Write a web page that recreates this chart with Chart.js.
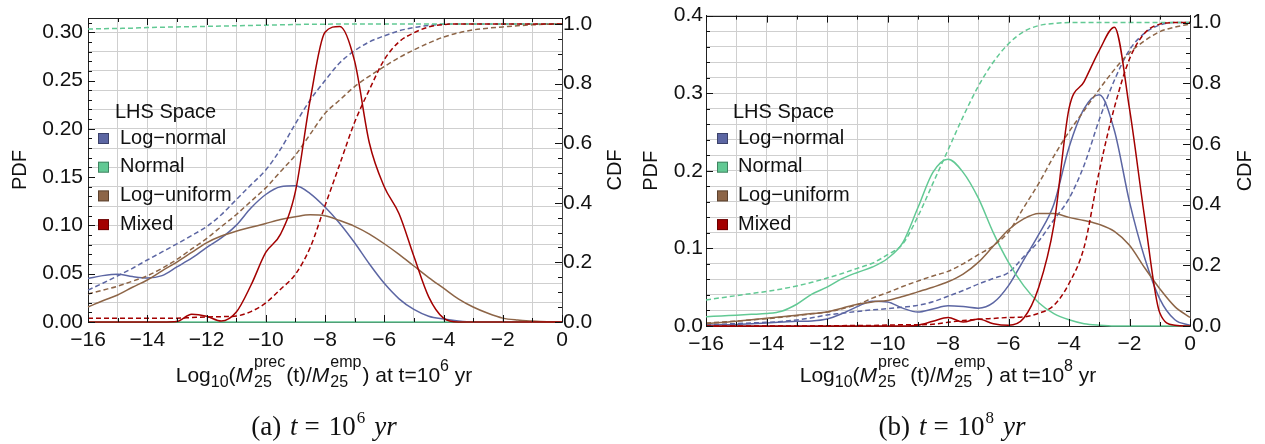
<!DOCTYPE html>
<html>
<head>
<meta charset="utf-8">
<script src="https://cdn.jsdelivr.net/npm/chart.js@4.4.0/dist/chart.umd.min.js"></script>
<style>
  html, body { margin:0; padding:0; background:#fff; }
  #wrap { position:relative; width:1265px; height:444px; }
  canvas { position:absolute; top:0; }
  #chartA { left:0; }
  #chartB { left:632px; }
</style>
</head>
<body>
<div id="wrap">
  <canvas id="chartA" width="632" height="444"></canvas>
  <canvas id="chartB" width="633" height="444"></canvas>
</div>
<script>
// log10 of precipitated mass ratio
const xs = [-16,-15.5,-15,-14.5,-14,-13.5,-13,-12.5,-12,-11.5,-11,-10.5,-10,-9.5,-9,-8.5,-8,-7.5,-7,-6.5,-6,-5.5,-5,-4.5,-4,-3.5,-3,-2.5,-2,-1.5,-1,-0.5,0];

const categories = ["Log\u2212normal", "Normal", "Log\u2212uniform", "Mixed"];
const colors = ["#5c66a3", "#62c994", "#8d6547", "#a30000"];

// --- t = 1e6 yr ---
const pdfA_logNormal = [0.045,0.048,0.0495,0.047,0.0455,0.048,0.057,0.066,0.077,0.087,0.100,
  0.118,0.132,0.140,0.141,0.133,0.119,0.102,0.082,0.060,0.040,0.024,
  0.013,0.006,0.003,0.001,0,0,0,0,0,0,0];
const pdfA_normal = [0,0,0,0,0,0,0,0,0,0,0,
  0,0,0,0,0,0,0,0,0,0,0,
  0,0,0,0,0,0,0,0,0,0,0];
const pdfA_logUniform = [0.0155,0.022,0.028,0.036,0.0435,0.053,0.062,0.072,0.082,0.089,0.094,
  0.098,0.102,0.106,0.109,0.111,0.110,0.105,0.099,0.091,0.081,0.070,
  0.058,0.046,0.035,0.024,0.0155,0.009,0.004,0.002,0.001,0.0003,0];
const pdfA_mixed = [0,0,0,0,0,0,0.0005,0.008,0.006,0.001,0.010,
  0.038,0.072,0.091,0.135,0.230,0.300,0.306,0.270,0.185,0.140,0.112,
  0.068,0.026,0.004,0,0,0,0,0,0,0,0];

const cdfA_logNormal = [0.107,0.13,0.155,0.18,0.208,0.235,0.262,0.29,0.32,0.36,0.41,
  0.46,0.51,0.58,0.665,0.745,0.81,0.87,0.91,0.94,0.96,0.977,
  0.988,0.995,0.999,1,1,1,1,1,1,1,1];
const cdfA_normal = [0.983,0.984,0.985,0.986,0.988,0.989,0.990,0.991,0.992,0.993,0.994,
  0.995,0.996,0.997,0.998,0.999,0.999,1,1,1,1,1,
  1,1,1,1,1,1,1,1,1,1,1];
const cdfA_logUniform = [0.094,0.107,0.12,0.137,0.155,0.18,0.21,0.245,0.28,0.32,0.36,
  0.405,0.45,0.505,0.56,0.63,0.70,0.745,0.79,0.825,0.857,0.887,
  0.913,0.936,0.956,0.97,0.98,0.986,0.99,0.994,0.997,0.999,1];
const cdfA_mixed = [0.013,0.013,0.013,0.013,0.013,0.013,0.013,0.015,0.017,0.018,0.02,
  0.035,0.064,0.11,0.16,0.25,0.39,0.53,0.67,0.78,0.88,0.94,
  0.97,0.99,0.998,1,1,1,1,1,1,1,1];

// --- t = 1e8 yr ---
const pdfB_logNormal = [0.001,0.0015,0.002,0.003,0.004,0.005,0.006,0.0065,0.009,0.016,0.025,
  0.032,0.031,0.023,0.018,0.022,0.026,0.025,0.023,0.030,0.052,0.085,
  0.118,0.157,0.23,0.28,0.298,0.252,0.16,0.088,0.035,0.008,0.001];
const pdfB_normal = [0.012,0.013,0.014,0.015,0.016,0.019,0.028,0.041,0.050,0.061,0.069,
  0.076,0.087,0.107,0.152,0.198,0.215,0.198,0.165,0.12,0.082,0.052,
  0.030,0.016,0.008,0.003,0.001,0,0,0,0,0,0];
const pdfB_logUniform = [0.003,0.0045,0.006,0.008,0.010,0.012,0.014,0.016,0.018,0.023,0.028,
  0.031,0.033,0.038,0.044,0.050,0.057,0.067,0.082,0.103,0.124,0.138,
  0.145,0.145,0.140,0.136,0.131,0.122,0.104,0.075,0.048,0.025,0.011];
const pdfB_mixed = [0,0,0,0,0,0,0,0,0,0,0,
  0,0,0,0.001,0.006,0.011,0.005,0.009,0.003,0.001,0.010,
  0.05,0.13,0.28,0.315,0.355,0.385,0.28,0.14,0.017,0.001,0];

const cdfB_logNormal = [0.005,0.006,0.008,0.010,0.012,0.015,0.02,0.027,0.036,0.042,0.048,
  0.053,0.057,0.062,0.068,0.08,0.098,0.117,0.138,0.157,0.176,0.228,
  0.28,0.35,0.42,0.53,0.68,0.81,0.91,0.965,0.992,1,1];
const cdfB_normal = [0.086,0.093,0.10,0.107,0.114,0.122,0.132,0.144,0.158,0.173,0.19,
  0.207,0.235,0.27,0.36,0.47,0.58,0.69,0.79,0.87,0.93,0.97,
  0.99,0.997,1,1,1,1,1,1,1,1,1];
const cdfB_logUniform = [0.01,0.013,0.016,0.02,0.024,0.029,0.034,0.04,0.046,0.057,0.07,
  0.092,0.11,0.13,0.148,0.165,0.18,0.205,0.235,0.265,0.31,0.39,
  0.47,0.56,0.64,0.71,0.78,0.845,0.9,0.94,0.97,0.985,0.995];
const cdfB_mixed = [0,0,0,0,0,0,0,0,0.001,0.001,0.002,
  0.002,0.003,0.004,0.004,0.006,0.012,0.018,0.022,0.025,0.028,0.03,
  0.042,0.068,0.14,0.26,0.51,0.72,0.88,0.965,0.995,1,1];

const SANS = '"Liberation Sans", Arial, sans-serif';
const SERIF = '"Liberation Serif", "Times New Roman", serif';
const GRID = "#cfcfcf";
const TEXT = "#111";

const panels = [
  {
    id: "chartA", letter: "a", exp: "6",
    pdf: [pdfA_logNormal, pdfA_normal, pdfA_logUniform, pdfA_mixed],
    cdf: [cdfA_logNormal, cdfA_normal, cdfA_logUniform, cdfA_mixed],
    pdfMax: 0.3147, cdfMax: 1.02,
    pdfStep: 0.01, gridEvery: 2, labelEvery: 5, digits: 2,
    pad: { top: 18 }, leftW: 88, rightW: 70, bottomH: 122,
    yPad: 5, y1Pad: 1,
    pdfTitleX: 20, cdfTitleX: 615,
    legend: { titleX: 115, boxX: 98, textX: 120 },
    titleCx: 324, captionCx: 324
  },
  {
    id: "chartB", letter: "b", exp: "8",
    pdf: [pdfB_logNormal, pdfB_normal, pdfB_logUniform, pdfB_mixed],
    cdf: [cdfB_logNormal, cdfB_normal, cdfB_logUniform, cdfB_mixed],
    pdfMax: 0.4, cdfMax: 1.023,
    pdfStep: 0.02, gridEvery: 1, labelEvery: 5, digits: 1,
    pad: { top: 15 }, leftW: 74, rightW: 75, bottomH: 118,
    yPad: 3, y1Pad: 2,
    pdfTitleX: 19, cdfTitleX: 613,
    legend: { titleX: 101, boxX: 85, textX: 106 },
    titleCx: 316, captionCx: 320
  }
];

// text with sub/superscripts, drawn piece by piece
function segWidth(ctx, s, family){
  if (s.sup !== undefined){
    ctx.font = s.size + "px " + family;
    return Math.max(ctx.measureText(s.sup).width, ctx.measureText(s.sub).width);
  }
  ctx.font = (s.italic ? "italic " : "") + s.size + "px " + family;
  return ctx.measureText(s.t).width;
}
function drawRich(ctx, segs, family, cx, base){
  const ws = segs.map(s => segWidth(ctx, s, family) + (s.gap || 0));
  let x = cx - ws.reduce((a, b) => a + b, 0) / 2;
  ctx.textAlign = "left";
  ctx.textBaseline = "alphabetic";
  segs.forEach((s, i) => {
    if (s.sup !== undefined){
      ctx.font = s.size + "px " + family;
      ctx.fillText(s.sup, x + 1, base + s.supDy);
      ctx.fillText(s.sub, x + 1, base + s.subDy);
    } else {
      ctx.font = (s.italic ? "italic " : "") + s.size + "px " + family;
      ctx.fillText(s.t, x, base + (s.dy || 0));
    }
    x += ws[i];
  });
}

function axisTitle(exp){
  return [
    { t: "Log", size: 21 }, { t: "10", size: 16, dy: 5 }, { t: "(", size: 21 },
    { t: "M", size: 21, italic: true },
    { sup: "prec", sub: "25", size: 16, supDy: -15, subDy: 5, gap: 2 },
    { t: "(t)/", size: 21 },
    { t: "M", size: 21, italic: true },
    { sup: "emp", sub: "25", size: 16, supDy: -15, subDy: 5, gap: 2 },
    { t: ") at t=10", size: 21 }, { t: exp, size: 16, dy: -11 }, { t: " yr", size: 21 }
  ];
}
function captionText(letter, exp){
  return [
    { t: "(" + letter + ")", size: 27, gap: 9 }, { t: "t", size: 27, italic: true, gap: 7 },
    { t: "=", size: 27, gap: 9 }, { t: "10", size: 27, gap: 1 }, { t: exp, size: 17, dy: -12, gap: 9 },
    { t: "yr", size: 27, italic: true }
  ];
}

// frame, inward ticks, axis titles, legend and caption
function decorations(p){
  return {
    id: "decor" + p.letter,
    afterDraw(chart){
      const ctx = chart.ctx;
      const a = chart.chartArea;
      const sx = chart.scales.x, sy = chart.scales.y, sy1 = chart.scales.y1;
      ctx.save();

      // top frame line
      ctx.strokeStyle = "#222";
      ctx.lineWidth = 1;
      ctx.beginPath();
      ctx.moveTo(a.left, Math.round(a.top) + 0.5);
      ctx.lineTo(a.right, Math.round(a.top) + 0.5);
      ctx.stroke();

      // inward tick marks
      ctx.strokeStyle = "#111";
      ctx.beginPath();
      sx.ticks.forEach(t => {
        const px = Math.round(sx.getPixelForValue(t.value)) + 0.5;
        const len = t.value % 2 === 0 ? 7 : 4;
        ctx.moveTo(px, a.bottom); ctx.lineTo(px, a.bottom - len);
        ctx.moveTo(px, a.top); ctx.lineTo(px, a.top + len);
      });
      sy.ticks.forEach(t => {
        const py = Math.round(sy.getPixelForValue(t.value)) + 0.5;
        const k = Math.round(t.value / p.pdfStep);
        const len = k % p.labelEvery === 0 ? 7 : 4;
        ctx.moveTo(a.left, py); ctx.lineTo(a.left + len, py);
      });
      sy1.ticks.forEach(t => {
        const py = Math.round(sy1.getPixelForValue(t.value)) + 0.5;
        const len = Math.round(t.value / 0.05) % 4 === 0 ? 7 : 4;
        ctx.moveTo(a.right, py); ctx.lineTo(a.right - len, py);
      });
      ctx.stroke();

      // axis titles (both read bottom to top)
      ctx.fillStyle = TEXT;
      ctx.font = "20px " + SANS;
      ctx.textAlign = "center";
      ctx.textBaseline = "middle";
      const cy = (a.top + a.bottom) / 2;
      [["PDF", p.pdfTitleX], ["CDF", p.cdfTitleX]].forEach(([txt, x]) => {
        ctx.save();
        ctx.translate(x, cy);
        ctx.rotate(-Math.PI / 2);
        ctx.fillText(txt, 0, 0);
        ctx.restore();
      });

      // legend
      const L = p.legend;
      ctx.textAlign = "left";
      ctx.fillText("LHS Space", L.titleX, 112);
      categories.forEach((name, i) => {
        const y = 138 + i * 28.7;
        ctx.fillStyle = colors[i];
        ctx.fillRect(L.boxX, y - 5, 11, 11);
        ctx.strokeStyle = "rgba(0,0,0,0.35)";
        ctx.strokeRect(L.boxX + 0.5, y - 4.5, 10, 10);
        ctx.fillStyle = TEXT;
        ctx.fillText(name, L.textX, y);
      });

      // x title and caption
      drawRich(ctx, axisTitle(p.exp), SANS, p.titleCx, 382);
      drawRich(ctx, captionText(p.letter, p.exp), SERIF, p.captionCx, 435);
      ctx.restore();
    }
  };
}

function buildChart(p){
  const datasets = [];
  // mixed first in the list so it paints on top
  [0, 1, 2, 3].forEach(i => {
    datasets.unshift({
      label: categories[i] + " CDF",
      data: xs.map((x, j) => ({ x: x, y: p.cdf[i][j] })),
      yAxisID: "y1",
      borderColor: colors[i], borderWidth: 1.5, borderDash: [5, 3],
      pointRadius: 0, cubicInterpolationMode: "monotone", clip: 3
    });
    datasets.unshift({
      label: categories[i] + " PDF",
      data: xs.map((x, j) => ({ x: x, y: p.pdf[i][j] })),
      yAxisID: "y",
      borderColor: colors[i], borderWidth: 1.5,
      pointRadius: 0, cubicInterpolationMode: "monotone", clip: 3
    });
  });

  const tickFont = { family: SANS, size: 21 };

  return new Chart(document.getElementById(p.id), {
    type: "line",
    data: { datasets: datasets },
    options: {
      responsive: false, animation: false, devicePixelRatio: 1,
      layout: { padding: { top: p.pad.top, left: 0, right: 0, bottom: 0 } },
      plugins: { legend: { display: false }, tooltip: { enabled: false } },
      scales: {
        x: {
          type: "linear", min: -16, max: 0,
          afterBuildTicks: s => { s.ticks = xs.filter(v => Number.isInteger(v)).map(v => ({ value: v })); },
          afterFit: s => { s.height = p.bottomH; },
          grid: { color: GRID, drawTicks: false },
          border: { color: "#222", width: 1 },
          ticks: {
            autoSkip: false, maxRotation: 0, padding: 6, color: TEXT, font: tickFont,
            callback: v => v % 2 !== 0 ? "" : (v < 0 ? "\u2212" + (-v) : "0")
          }
        },
        y: {
          type: "linear", position: "left", min: 0, max: p.pdfMax,
          afterBuildTicks: s => {
            const t = [];
            for (let k = 0; k * p.pdfStep <= p.pdfMax + 1e-9; k++) t.push({ value: +(k * p.pdfStep).toFixed(3) });
            s.ticks = t;
          },
          afterFit: s => { s.width = p.leftW; },
          grid: {
            drawTicks: false,
            color: c => Math.round(c.tick.value / p.pdfStep) % p.gridEvery === 0 ? GRID : "rgba(0,0,0,0)"
          },
          border: { color: "#222", width: 1 },
          ticks: {
            autoSkip: false, padding: p.yPad, color: TEXT, font: tickFont,
            callback: v => Math.round(v / p.pdfStep) % p.labelEvery === 0 ? v.toFixed(p.digits) : ""
          }
        },
        y1: {
          type: "linear", position: "right", min: 0, max: p.cdfMax,
          afterBuildTicks: s => {
            const t = [];
            for (let k = 0; k * 0.05 <= 1 + 1e-9; k++) t.push({ value: +(k * 0.05).toFixed(2) });
            s.ticks = t;
          },
          afterFit: s => { s.width = p.rightW; },
          grid: { display: false, drawTicks: false },
          border: { color: "#444", width: 1, dash: [4, 3] },
          ticks: {
            autoSkip: false, padding: p.y1Pad, color: TEXT, font: tickFont,
            callback: v => Math.round(v / 0.05) % 4 === 0 ? v.toFixed(1) : ""
          }
        }
      }
    },
    plugins: [decorations(p)]
  });
}

panels.forEach(buildChart);
</script>
</body>
</html>
